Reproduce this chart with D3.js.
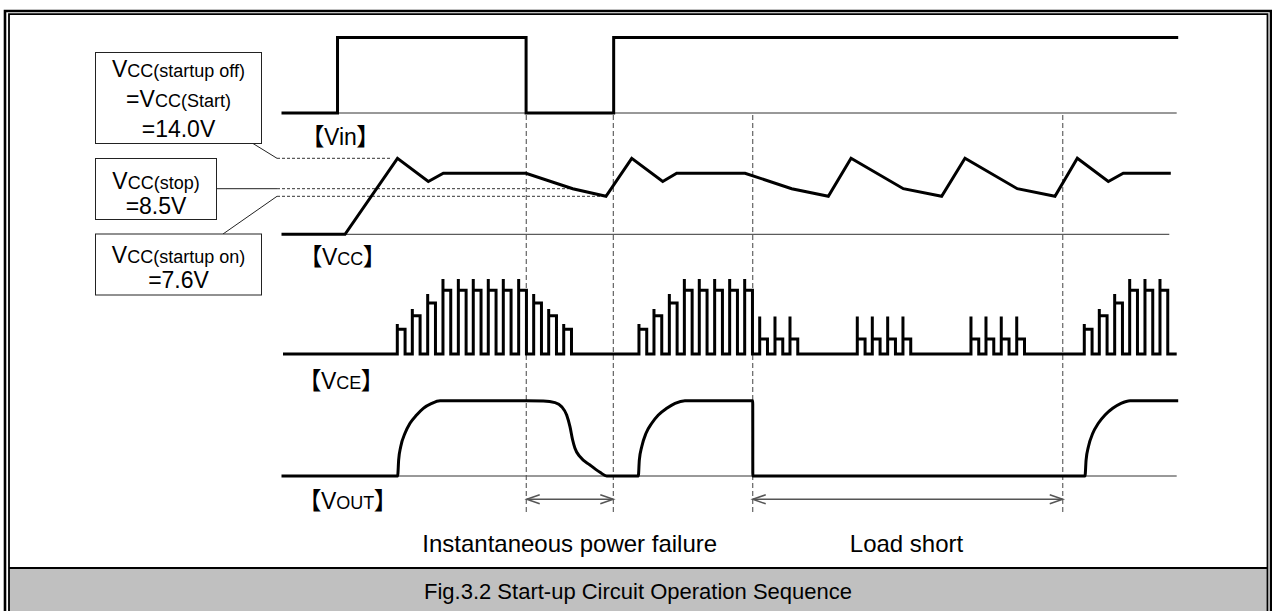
<!DOCTYPE html>
<html><head><meta charset="utf-8">
<script src="https://cdn.jsdelivr.net/npm/d3@7"></script>
<style>
body{margin:0;background:#fff}
svg{display:block}
text{font-family:"Liberation Sans",Arial,"Noto Sans CJK JP",sans-serif;font-feature-settings:"palt";fill:#000}
</style>
</head><body>
<svg id="c" width="1272" height="611"></svg>
<script>
// ---------------- data (time in arbitrary units 0..100) ----------------
const timeDomain = [0, 100];

// Vin: step edges and levels (0 = off, 1 = on)
const vinEdges  = [0, 6.1, 27.2, 37.0, 100];
const vinLevels = [0, 1, 0, 1, 1];

// Vcc waveform (volts, schematic)
const vccTimes = [0, 6.94, 12.81, 16.26, 17.94, 27.19, 32.42, 36.14, 39.02, 42.49, 44.05, 51.70,
                  56.92, 61.02, 63.56, 69.41, 73.70, 76.31, 82.16, 86.38, 88.88, 92.35, 94.02, 99.17];
const vccVolts = [0, 0, 14.0, 9.8, 11.3, 11.3, 8.5, 7.6, 14.0, 9.8, 11.3, 11.3,
                  8.5, 7.6, 14.0, 8.5, 7.6, 14.0, 8.5, 7.6, 14.0, 9.8, 11.3, 11.3];
const vccEnd = 99.17;

// Vcc threshold levels
const thrNames  = ["VCC(startup off)", "VCC(stop)", "VCC(startup on)"];
const thrVolts  = [14.0, 8.5, 7.6];
const thrEndT   = [12.2, 32.0, 36.0];

// VCE switching pulses
const pulseTimes = [12.79,14.47,16.19,17.90,19.62,21.29,22.97,24.65,26.37,28.05,29.73,31.41,
                    39.83,41.51,43.23,44.91,46.58,48.30,49.98,51.66,53.34,55.05,56.73,
                    64.26,65.94,67.66,69.37,
                    76.98,78.66,80.37,82.10,
                    89.66,91.34,93.06,94.74,96.45,98.13];
const pulseClass = ["a","b","c","d","d","d","d","d","d","c","b","a",
                    "a","b","c","d","d","d","d","d","s","s","s",
                    "s","s","s","s",
                    "s","s","s","s",
                    "a","b","c","d","d","d"];
const spikeLevel   = {a:40, b:60, c:80, d:100, s:50};
const plateauLevel = {a:33, b:51, c:68, d:85,  s:20};
const pulseWidth = 0.87;

// VOUT waveform (% of nominal)
const voutTimes = [0, 12.83, 12.94, 13.17, 13.65, 14.21, 14.95, 15.70, 16.64, 17.57,
                   27.27, 29.13, 30.44, 31.18, 31.74, 32.11, 32.41, 32.67, 33.23, 34.35, 35.47, 36.22,
                   39.76, 39.87, 40.14, 40.62, 41.26, 42.00, 42.94, 43.87, 44.98,
                   52.56, 52.57,
                   89.74, 89.86, 90.12, 90.61, 91.23, 91.98, 92.84, 93.77, 94.78, 100];
const voutValues = [0, 0, 21.2, 38.9, 56.7, 70, 81, 89.9, 96.5, 100,
                    100, 99.6, 97.4, 92, 81, 65.5, 47.8, 36.8, 25.6, 14.6, 4.9, 0,
                    0, 21.2, 38.9, 56.7, 70, 81, 89.9, 96.5, 100,
                    100, 0,
                    0, 21.2, 38.9, 56.7, 70, 81, 89.9, 96.5, 100, 100];

// event markers
const markerTimes = [27.22, 36.96, 52.56, 87.25];
const intervals = [[27.27, 36.96], [52.56, 87.25]];
const intervalLabels = ["Instantaneous power failure", "Load short"];

const rowLabels = [["V","in"], ["V","CC"], ["V","CE"], ["V","OUT"]];
const caption = "Fig.3.2 Start-up Circuit Operation Sequence";
const boxLines = [
  [[["V",0],["CC(startup off)",1]], [["=",0],["V",0],["CC(Start)",1]], [["=14.0V",0]]],
  [[["V",0],["CC(stop)",1]], [["=8.5V",0]]],
  [[["V",0],["CC(startup on)",1]], [["=7.6V",0]]]
];

// ---------------- drawing ----------------
const svg = d3.select("#c");
const x = d3.scaleLinear().domain(timeDomain).range([283, 1176.7]);
const yVin  = d3.scaleLinear().domain([0, 1]).range([113, 37.5]);
const yVcc  = d3.scaleLinear().domain([0, 7.6, 8.5, 14.0]).range([234.3, 196.3, 188.7, 158.3]);
const yVce  = d3.scaleLinear().domain([0, 100]).range([354, 279]);
const yVout = d3.scaleLinear().domain([0, 100]).range([476, 400.7]);

// frame
svg.append("rect").attr("x",0).attr("y",0).attr("width",1272).attr("height",611).attr("fill","#fff");
svg.append("rect").attr("x",9).attr("y",568).attr("width",1258).attr("height",50).attr("fill","#c0c0c0");
svg.append("line").attr("x1",9).attr("x2",1267.5).attr("y1",568).attr("y2",568).attr("stroke","#000").attr("stroke-width",2.2);
svg.append("path").attr("d","M5,620 V11 H1271 V620").attr("fill","none").attr("stroke","#000").attr("stroke-width",2.6);
svg.append("path").attr("d","M9,620 V14.2 H1267.5 V620").attr("fill","none").attr("stroke","#000").attr("stroke-width",1.8);

// thin reference lines
const thin = svg.append("g").attr("stroke","#333").attr("stroke-width",1);
thin.append("line").attr("x1",x(0)).attr("x2",x(100)).attr("y1",yVin(0)).attr("y2",yVin(0));
thin.append("line").attr("x1",x(0)).attr("x2",x(vccEnd)).attr("y1",yVcc(0)).attr("y2",yVcc(0));
thin.append("line").attr("x1",x(0)).attr("x2",x(100)).attr("y1",yVout(0)).attr("y2",yVout(0));

// vertical dashed markers
svg.append("g").selectAll("line").data(markerTimes).join("line")
  .attr("x1",d=>x(d)).attr("x2",d=>x(d)).attr("y1",115).attr("y2",515)
  .attr("stroke","#555").attr("stroke-width",1.1).attr("stroke-dasharray","5,3");

// threshold dashed lines
svg.append("g").selectAll("line").data(thrVolts).join("line")
  .attr("x1",277).attr("x2",(d,i)=>x(thrEndT[i])).attr("y1",d=>yVcc(d)).attr("y2",d=>yVcc(d))
  .attr("stroke","#333").attr("stroke-width",1).attr("stroke-dasharray","3,2");

// leader lines
const lead = svg.append("g").attr("stroke","#222").attr("stroke-width",1);
lead.append("line").attr("x1",253).attr("y1",143.5).attr("x2",277).attr("y2",yVcc(thrVolts[0]));
lead.append("line").attr("x1",216.5).attr("y1",yVcc(thrVolts[1])).attr("x2",277).attr("y2",yVcc(thrVolts[1]));
lead.append("line").attr("x1",223).attr("y1",234).attr("x2",277).attr("y2",yVcc(thrVolts[2]));

// boxes
const boxes = [[95.5,52.5,166,91,[77.3,107.3,137.3]],[95.5,158.5,121,61,[188.8,214]],[95.5,234,166,61,[263,288.3]]];
boxes.forEach((b,i)=>{
  svg.append("rect").attr("x",b[0]).attr("y",b[1]).attr("width",b[2]).attr("height",b[3])
    .attr("fill","#fff").attr("stroke","#222").attr("stroke-width",1);
  boxLines[i].forEach((parts,j)=>{
    const t = svg.append("text").attr("x",b[0]+b[2]/2).attr("y",b[4][j]).attr("text-anchor","middle");
    parts.forEach(p=>t.append("tspan").attr("font-size",p[1]?18:23).text(p[0]));
  });
});

const thick = {fill:"none",stroke:"#000","stroke-width":3,"stroke-linejoin":"miter","stroke-linecap":"square"};
function sty(sel){Object.entries(thick).forEach(([k,v])=>sel.attr(k,v));return sel;}

// Vin
const vinLine = d3.line().x(d=>x(d[0])).y(d=>yVin(d[1])).curve(d3.curveStepAfter);
sty(svg.append("path")).attr("d", vinLine(vinEdges.map((t,i)=>[t,vinLevels[i]])));

// Vcc
const vccLine = d3.line().x(d=>x(d[0])).y(d=>yVcc(d[1]));
sty(svg.append("path")).attr("d", vccLine(vccTimes.map((t,i)=>[t,vccVolts[i]])));

// VCE
const vcePts = [[0,0]];
pulseTimes.forEach((t,i)=>{
  const c = pulseClass[i];
  vcePts.push([t,0],[t,spikeLevel[c]],[t,plateauLevel[c]],[t+pulseWidth,plateauLevel[c]],[t+pulseWidth,0]);
});
vcePts.push([100,0]);
const vceLine = d3.line().x(d=>x(d[0])).y(d=>yVce(d[1]));
sty(svg.append("path")).attr("d", vceLine(vcePts)).attr("stroke-linecap","butt");

// VOUT
const voutLine = d3.line().x(d=>x(d[0])).y(d=>yVout(d[1])).curve(d3.curveMonotoneX);
sty(svg.append("path")).attr("d", voutLine(voutTimes.map((t,i)=>[t,voutValues[i]])));

// row labels
const labelPos = [[315,145],[313,265],[312,388.5],[312,508.5]];
rowLabels.forEach((l,i)=>{
  const t = svg.append("text").attr("x",labelPos[i][0]-3).attr("y",labelPos[i][1]);
  t.append("tspan").attr("font-size",24).text("【");
  t.append("tspan").attr("font-size",23).text(l[0]);
  t.append("tspan").attr("font-size", i===0?23:18).text(l[1]);
  t.append("tspan").attr("font-size",24).text("】");
});

// interval arrows
const ay = 499.3;
const arr = svg.append("g").attr("stroke","#555").attr("stroke-width",1.5).attr("fill","none");
intervals.forEach(([a,b])=>{
  const x1 = x(a), x2 = x(b);
  arr.append("line").attr("x1",x1).attr("x2",x2).attr("y1",ay).attr("y2",ay);
  arr.append("path").attr("d",`M${x1+13},${ay-4.5} L${x1},${ay} L${x1+13},${ay+4.5}`);
  arr.append("path").attr("d",`M${x2-13},${ay-4.5} L${x2},${ay} L${x2-13},${ay+4.5}`);
});
svg.append("g").selectAll("text").data(intervalLabels).join("text")
  .attr("x",(d,i)=>[569.7,906.5][i]).attr("y",552).attr("text-anchor","middle")
  .attr("font-size",24).text(d=>d);

// caption
svg.append("text").attr("x",638).attr("y",598.5).attr("text-anchor","middle").attr("font-size",22).text(caption);
</script>
</body></html>
